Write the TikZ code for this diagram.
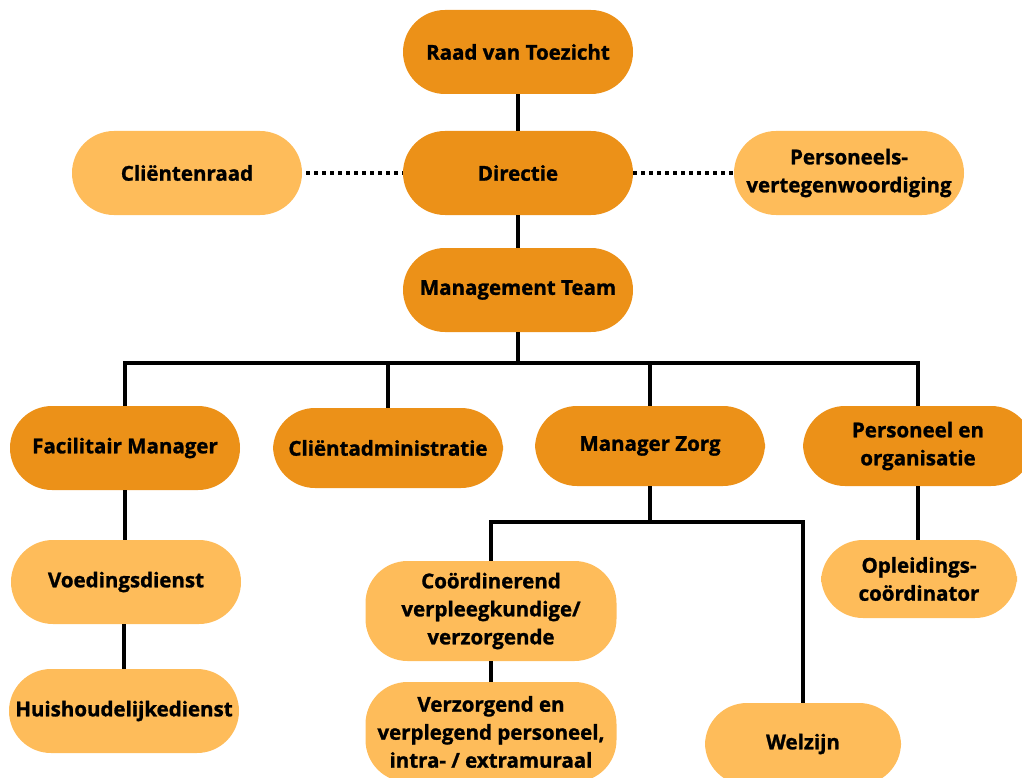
\documentclass[tikz,border=0pt]{standalone}
\usepackage{fontspec}
\setmainfont{Open Sans}[BoldFeatures={FakeBold=1.2}]
\usepackage{tikz}
\definecolor{zorgdark}{RGB}{236,145,24}
\definecolor{zorglight}{RGB}{254,188,90}

\begin{document}
\begin{tikzpicture}[x=1pt, y=1pt, node distance=120pt,
	box/.style={rectangle, rounded corners=42pt, minimum width=230pt, minimum height=84pt, inner sep=0pt, align=center, font=\fontsize{20.5}{28}\selectfont\bfseries},
	dark/.style={box, fill=zorgdark},
	light/.style={box, fill=zorglight},
	link/.style={line width=4pt, black},
	dots/.style={line width=4pt, black, dash pattern=on 4pt off 4pt}]
	\useasboundingbox (0,0) rectangle (1022,-778);
	
	\node[dark] (raad) at (518,-52) {Raad van Toezicht};
	\node[dark, below of=raad, yshift=-1pt] (dir) {Directie};
	\node[dark, below of=dir, yshift=3pt] (mt) {Management Team};
	\node[light, left of=dir, xshift=-211pt] (clr) {Cliëntenraad};
	\node[light, right of=dir, xshift=211pt] (pv) {Personeels-\\vertegenwoordiging};
	
	\node[dark, below of=mt, xshift=-393pt, yshift=-38pt] (fm) {Facilitair Manager};
	\node[dark, right of=fm, xshift=143pt, minimum height=80pt] (ca) {Cliëntadministratie};
	\node[dark, right of=ca, xshift=142pt, yshift=2pt, minimum height=80pt] (mz) {Manager Zorg};
	\node[dark, right of=mz, xshift=148pt, minimum height=80pt] (po) {Personeel en\\organisatie};
	
	\node[light, below of=fm, xshift=1pt, yshift=-14pt] (vd) {Voedingsdienst};
	\node[light, below of=vd, xshift=-2pt, yshift=-9pt] (hd) {Huishoudelijkedienst};
	\node[light, below of=mz, xshift=-159pt, yshift=-45pt, minimum width=251pt, minimum height=100pt] (co) {Coördinerend\\verpleegkundige/\\verzorgende};
	\node[light, below of=co, yshift=-1pt, minimum width=251pt, minimum height=100pt] (vp) {Verzorgend en\\verplegend personeel,\\intra- / extramuraal};
	\node[light, below of=mz, xshift=153pt, yshift=-178pt, minimum width=196pt, minimum height=82pt] (wz) {Welzijn};
	\node[light, below of=po, xshift=1pt, yshift=-13pt, minimum width=196pt, minimum height=78pt] (op) {Opleidings-\\coördinator};
	
	\coordinate[below of=mt, yshift=47pt] (bus);
	\coordinate[below of=mz, yshift=44pt] (bus2);
	
	\draw[link] (raad.south) -- (dir.north);
	\draw[link] (dir.south) -- (mt.north);
	\draw[dots, shorten <=4pt] (clr.east) -- (dir.west);
	\draw[dots] (dir.east) -- (pv.west);
	
	\draw[link] (mt.south) -- (bus);
	\draw[link] (fm.north) |- (bus) -| (po.north);
	\draw[link] (ca.north) -- (ca.north |- bus);
	\draw[link] (mz.north) -- (mz.north |- bus);
	
	\draw[link] (fm.south) -- (fm.south |- vd.north);
	\draw[link] (hd.north |- vd.south) -- (hd.north);
	\draw[link] (po.south) -- (po.south |- op.north);
	
	\draw[link] (mz.south) -- (bus2);
	\draw[link] (co.north) |- (bus2) -| (wz.north);
	\draw[link] (co.south) -- (vp.north);
\end{tikzpicture}
\end{document}
